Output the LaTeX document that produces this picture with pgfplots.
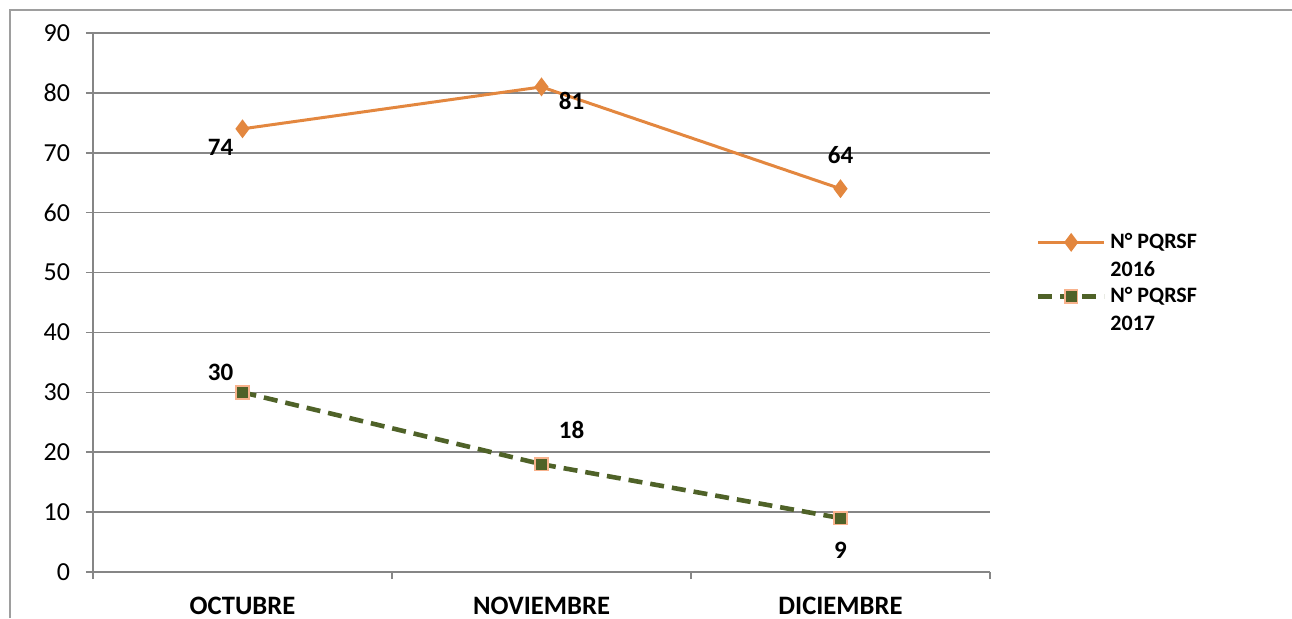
\documentclass[border=0pt]{standalone}
\usepackage{pgfplots}
\pgfplotsset{compat=1.18}
\usepackage{fontspec}
\setmainfont{Carlito}
\definecolor{ora}{RGB}{227,135,63}
\definecolor{olv}{RGB}{79,98,40}
\definecolor{pnk}{RGB}{248,178,140}
\definecolor{grd}{RGB}{134,134,134}
\begin{document}
\begin{tikzpicture}
\useasboundingbox (0,0) rectangle (646pt,309pt);
\draw[grd!80, line width=1pt] (5pt,0) -- (5pt,304pt) -- (646pt,304pt);
\begin{axis}[
  at={(46.5pt,23pt)}, anchor=south west,
  scale only axis, width=448.5pt, height=269.5pt,
  xmin=0, xmax=3, ymin=0, ymax=90,
  xtick={0,1,2,3},
  xticklabels={OCTUBRE,NOVIEMBRE,DICIEMBRE},
  x tick label as interval,
  ytick={0,10,...,90},
  axis lines=left,
  axis line style={-, grd, line width=0.8pt},
  ymajorgrids, grid style={grd, line width=0.8pt},
  tick align=outside, major tick length=3.5pt,
  tick style={grd, line width=0.8pt},
  /pgf/number format/assume math mode=true,
  yticklabel style={font=\fontsize{13}{15}\selectfont, xshift=-4.5pt},
  xticklabel style={font=\bfseries\fontsize{13.3}{15}\selectfont, yshift=-8.8pt, inner sep=0pt, text depth=0pt},
  clip=false,
  legend style={at={(1.044,0.644)}, anchor=north west, draw=none, fill=none,
    font=\bfseries\fontsize{11}{14}\selectfont,
    nodes={align=left}, row sep=0pt},
  legend cell align=left,
  legend image code/.code={%
    \path[draw=none, fill=none] (0pt,-10.5pt) rectangle (33pt,10.5pt);
    \draw[mark repeat=2,mark phase=2,#1] plot coordinates {(0pt,7pt)(16.5pt,7pt)(33pt,7pt)};},
]
\addplot[ora, line width=1.5pt, mark=diamond*, mark size=3.5pt, mark options={solid, fill=ora, draw=ora}]
  coordinates {(0.5,74) (1.5,81) (2.5,64)};
\addplot[olv, line width=2.3pt, dash pattern=on 7pt off 4pt, mark=square*, mark size=3.2pt,
  mark options={solid, fill=olv, draw=pnk, line width=0.8pt}]
  coordinates {(0.5,30) (1.5,18) (2.5,9)};
\legend{{N° PQRSF\\2016},{N° PQRSF\\2017}}
\begin{scope}[every node/.style={font=\bfseries\fontsize{12.5}{14}\selectfont}]
\node at (axis cs:0.5,74) [xshift=-11pt, yshift=-9.5pt] {74};
\node at (axis cs:1.5,81) [xshift=15pt, yshift=-7pt] {81};
\node at (axis cs:2.5,64) [yshift=17pt] {64};
\node at (axis cs:0.5,30) [xshift=-11pt, yshift=10pt] {30};
\node at (axis cs:1.5,18) [xshift=15pt, yshift=17pt] {18};
\node at (axis cs:2.5,9) [yshift=-16pt] {9};
\end{scope}
\end{axis}
\end{tikzpicture}
\end{document}
